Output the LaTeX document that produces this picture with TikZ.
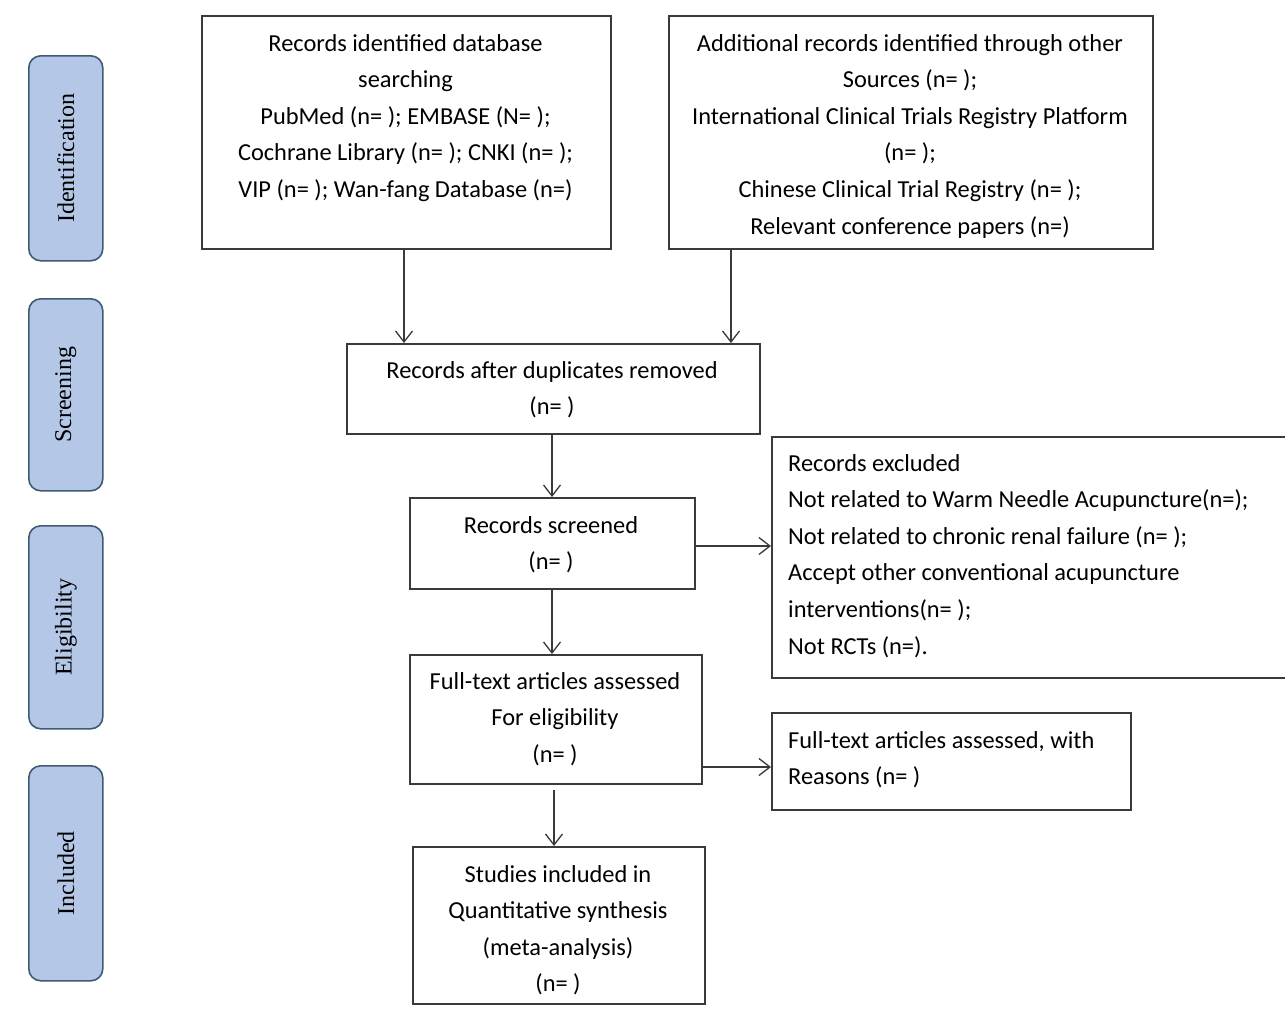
\documentclass[tikz,border=0pt]{standalone}
\usepackage{fontspec}
\setmainfont{Carlito}
\newfontfamily\sidefont{Liberation Serif}
\usetikzlibrary{arrows.meta}
\definecolor{sidefill}{HTML}{B4C7E7}
\definecolor{sideline}{HTML}{3E5B72}
\definecolor{boxline}{HTML}{3A3A3A}
\tikzset{
  flowbox/.style={draw=boxline, line width=1.6pt, rectangle, inner sep=0pt, anchor=north west},
  sidebox/.style={draw=sideline, fill=sidefill, line width=1.6pt, rounded corners=12pt, inner sep=0pt, anchor=north west},
  sidetext/.style={rotate=90, font=\sidefont\fontsize{24}{27}\selectfont, inner sep=0pt},
  ctext/.style={align=center, font=\fontsize{24.4}{36.6}\selectfont, inner sep=0pt, anchor=north},
  ltext/.style={align=left, font=\fontsize{24.4}{36.6}\selectfont, inner sep=0pt, anchor=north west},
  arr/.style={draw=boxline, line width=1.3pt, -{Straight Barb[length=11pt,width=17pt,line width=1.3pt]}}
}
\begin{document}
\begin{tikzpicture}[x=1pt,y=-1pt]
\useasboundingbox[fill=white] (0,0) rectangle (1285,1020);
% side boxes
\node[sidebox, minimum width=74, minimum height=205] (s1) at (28,55) {};
\node[sidetext] (s1t) at (s1.center) {Identification};
\node[sidebox, minimum width=74, minimum height=192] (s2) at (28,298) {};
\node[sidetext] (s2t) at (s2.center) {Screening};
\node[sidebox, minimum width=74, minimum height=203] (s3) at (28,525) {};
\node[sidetext] (s3t) at (s3.center) {Eligibility};
\node[sidebox, minimum width=74, minimum height=215] (s4) at (28,765) {};
\node[sidetext] (s4t) at (s4.center) {Included};
% boxes
\node[flowbox, minimum width=409, minimum height=233] (a) at (201,15) {};
\node[ctext] (at) at (405.5,34) {Records identified database\\searching\\PubMed (n= ); EMBASE (N= );\\Cochrane Library (n= ); CNKI (n= );\\VIP (n= ); Wan-fang Database (n=)};
\node[flowbox, minimum width=484, minimum height=233] (b) at (668,15) {};
\node[ctext] (bt) at (910,34) {Additional records identified through other\\Sources (n= );\\International Clinical Trials Registry Platform\\(n= );\\Chinese Clinical Trial Registry (n= );\\Relevant conference papers (n=)};
\node[flowbox, minimum width=413, minimum height=90] (c) at (346,343) {};
\node[ctext] (ct) at (552,361) {Records after duplicates removed\\(n= )};
\node[flowbox, minimum width=285, minimum height=91] (d) at (409,497) {};
\node[ctext] (dt) at (551,516) {Records screened\\(n= )};
\node[flowbox, minimum width=514, minimum height=241] (e) at (771,436) {};
\node[ltext] (et) at (788,454) {Records excluded\\Not related to Warm Needle Acupuncture(n=);\\Not related to chronic renal failure (n= );\\Accept other conventional acupuncture\\interventions(n= );\\Not RCTs (n=).};
\node[flowbox, minimum width=292, minimum height=129] (f) at (409,654) {};
\node[ctext] (ft) at (555,672) {Full-text articles assessed\\For eligibility\\(n= )};
\node[flowbox, minimum width=359, minimum height=97] (g) at (771,712) {};
\node[ltext] (gt) at (788,731) {Full-text articles assessed, with\\Reasons (n= )};
\node[flowbox, minimum width=292, minimum height=157] (h) at (412,846) {};
\node[ctext] (ht) at (558,865) {Studies included in\\Quantitative synthesis\\(meta-analysis)\\(n= )};
% connectors
\draw[arr] (a.south -| 404,0) -- (c.north -| 404,0);
\draw[arr] (b.south -| 731,0) -- (c.north -| 731,0);
\draw[arr] (c.south -| 552,0) -- (d.north -| 552,0);
\draw[arr] (d.south -| 552,0) -- (f.north -| 552,0);
\draw[arr] (d.east |- 0,546) -- (e.west |- 0,546);
\draw[arr] (f.east |- 0,767) -- (g.west |- 0,767);
\coordinate (fh) at (554,790);
\draw[arr] (fh) -- (h.north -| fh);
\end{tikzpicture}
\end{document}
